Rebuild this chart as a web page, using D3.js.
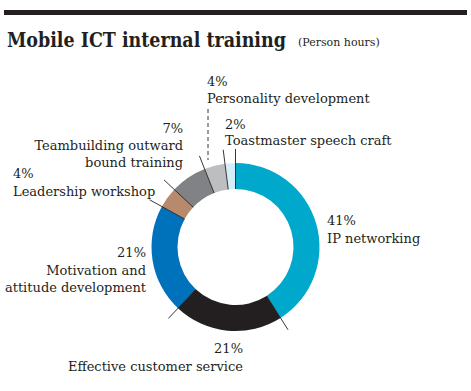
<!DOCTYPE html>
<html><head><meta charset="utf-8">
<script src="https://cdnjs.cloudflare.com/ajax/libs/d3/7.8.5/d3.min.js"></script>
<style>body{margin:0;background:#fff}svg{display:block}</style>
</head><body>
<script>
const categories = ["IP networking","Effective customer service","Motivation and attitude development","Leadership workshop","Teambuilding outward bound training","Personality development","Toastmaster speech craft"];
const values = [41,21,21,4,7,4,2];
const colors = ["#00a9cc","#231f20","#0071bb","#b88a6d","#808285","#bcbec0","#d5edf8"];
const labelLines = [["IP networking"],["Effective customer service"],["Motivation and","attitude development"],["Leadership workshop"],["Teambuilding outward","bound training"],["Personality development"],["Toastmaster speech craft"]];

const W=471,H=391, cx=235.5, cy=247, rOut=84, rIn=58, rLead=98;
const ink="#231f20";
const font="'DejaVu Serif', serif";
const svg=d3.select("body").append("svg").attr("width",W).attr("height",H);

svg.append("rect").attr("x",4).attr("y",10).attr("width",463).attr("height",5).attr("fill",ink);
const title=svg.append("text").attr("x",0).attr("y",0).attr("fill",ink).style("font-family",font)
  .style("font-size","20.5px").style("font-weight","bold")
  .text("Mobile ICT internal training");
const tw=title.node().getComputedTextLength();
title.attr("transform",`translate(7,47) scale(${279/tw},1)`);
svg.append("text").attr("x",298).attr("y",46).attr("fill",ink).style("font-family",font)
  .style("font-size","11px").text("(Person hours)");

const pie=d3.pie().sort(null).value(d=>d)(values);
const arc=d3.arc().innerRadius(rIn).outerRadius(rOut);
const g=svg.append("g").attr("transform",`translate(${cx},${cy})`);
g.selectAll("path").data(pie).join("path").attr("d",arc).attr("fill",(d,i)=>colors[i]);

// leader lines along slice boundaries
g.selectAll("line.lead").data(pie).join("line").attr("class","lead")
 .attr("x1",d=>rIn*Math.sin(d.startAngle)).attr("y1",d=>-rIn*Math.cos(d.startAngle))
 .attr("x2",d=>rLead*Math.sin(d.startAngle)).attr("y2",d=>-rLead*Math.cos(d.startAngle))
 .attr("stroke",ink).attr("stroke-width",0.9);

// dashed leader for personality development
svg.append("line").attr("x1",208).attr("x2",208).attr("y1",109).attr("y2",160)
 .attr("stroke",ink).attr("stroke-width",0.9).attr("stroke-dasharray","4,3");

// label layout: [x, y of percent baseline, anchor]
const labelPos = [[327,225,"start"],[243,353,"end"],[146,257,"end"],[13,178,"start"],[183,133,"end"],[207,86,"start"],[225,129,"start"]];
const lineGap=[17.5,17.5,18,18,17,17,16];
labelPos.forEach((p,i)=>{
  const tx=svg.append("text").attr("x",p[0]).attr("y",p[1]).attr("text-anchor",p[2])
    .attr("fill",ink).style("font-family",font).style("font-size","13px");
  tx.append("tspan").attr("x",p[0]).text(values[i]+"%");
  labelLines[i].forEach((s,k)=>tx.append("tspan").attr("x",p[0]).attr("dy",k==0?lineGap[i]:16.5).text(s));
});
</script>
</body></html>
